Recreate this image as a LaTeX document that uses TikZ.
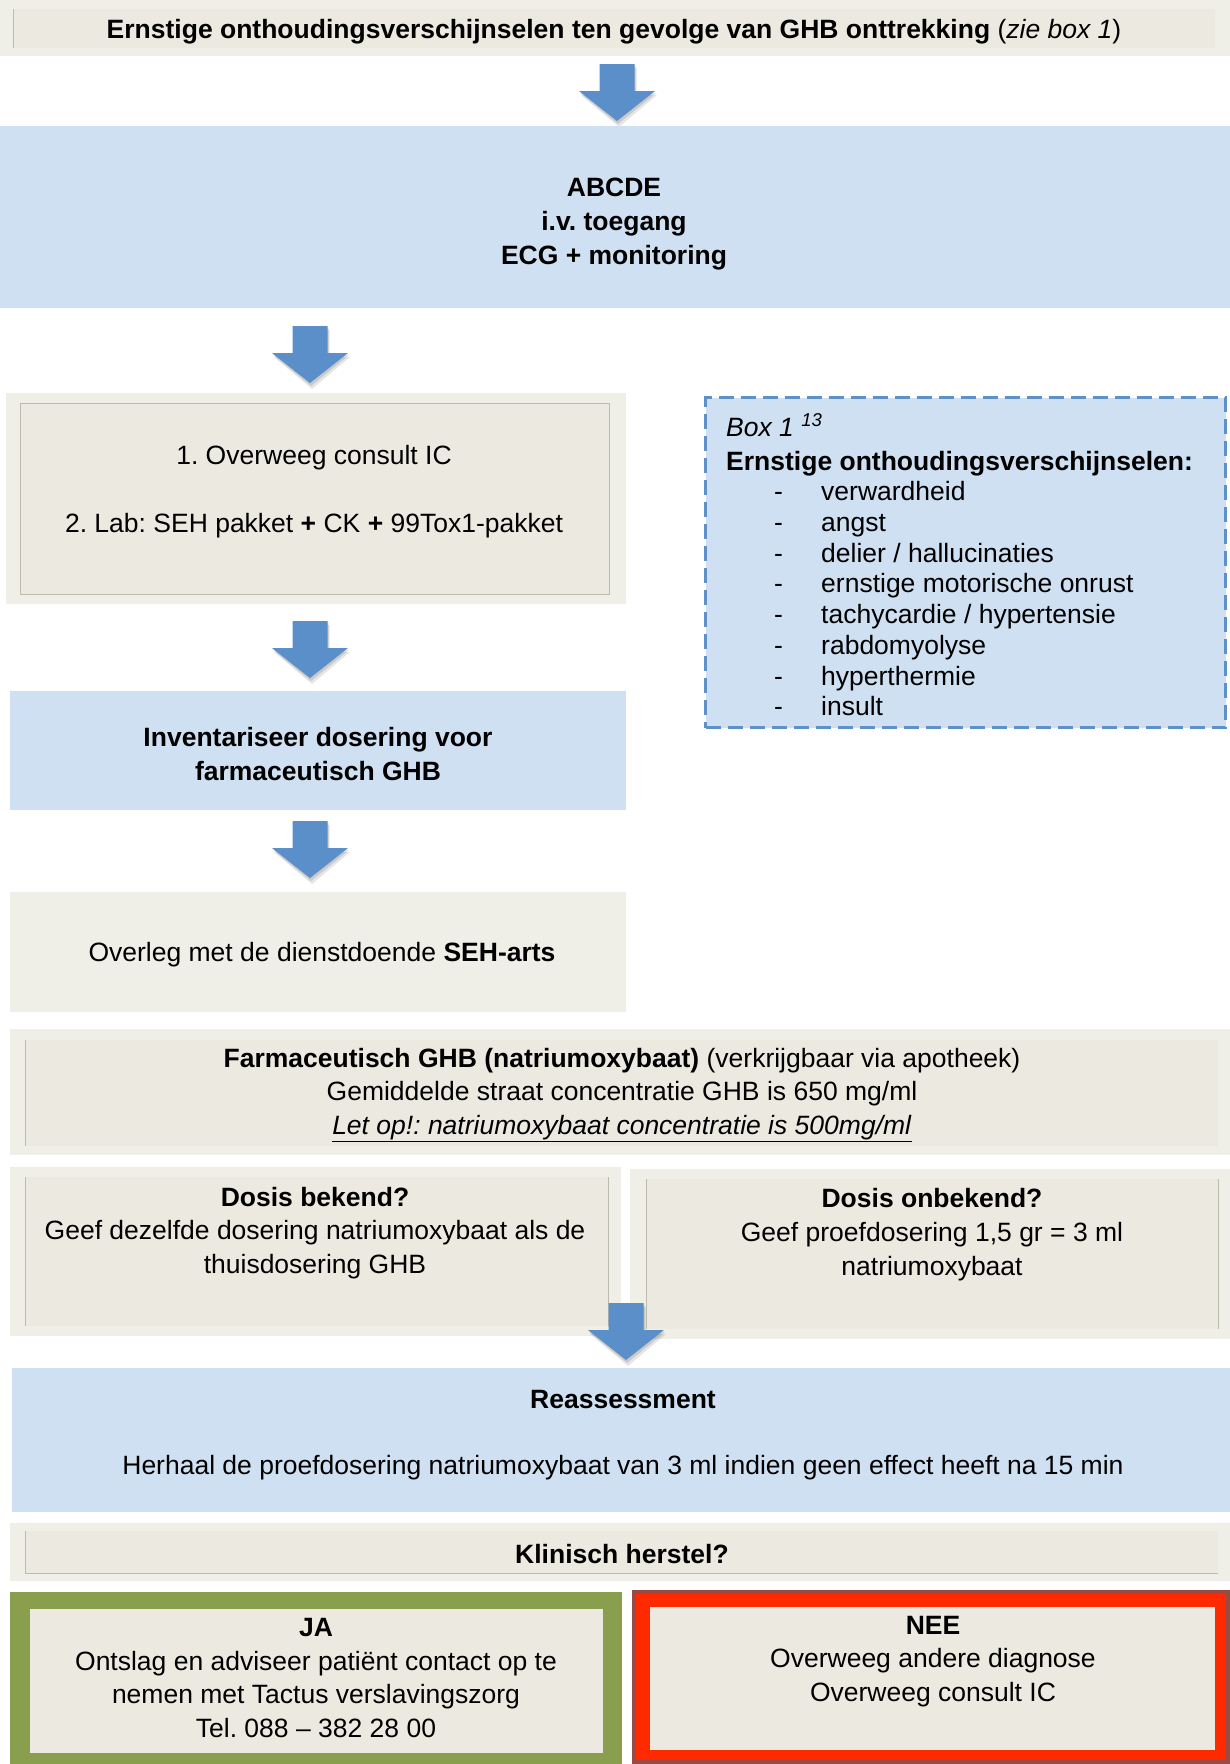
\documentclass[tikz,border=0pt]{standalone}
\usepackage{fontspec}
\setmainfont{Liberation Sans}
\usetikzlibrary{fit}
\definecolor{beigeout}{HTML}{EFEEE7}
\definecolor{beigein}{HTML}{ECEAE0}
\definecolor{beigeline}{HTML}{BDBBAE}
\definecolor{lblue}{HTML}{CFE0F2}
\definecolor{ablue}{HTML}{5B8FCA}
\definecolor{dblue}{HTML}{5E90CA}
\definecolor{jagreen}{HTML}{8A9F4E}
\definecolor{neered}{HTML}{FF2A00}
\definecolor{needark}{HTML}{9A4A44}
\frenchspacing
\tikzset{
 base/.style={inner sep=0pt, outer sep=0pt},
 outerb/.style={base, fill=beigeout},
 innerb/.style={base, fill=beigein, draw=beigeline, line width=0.9pt},
 blueb/.style={base, fill=lblue},
 txt/.style={inner sep=0pt, align=center, font=\fontsize{26.5}{33.8}\selectfont},
 ltxt/.style={inner sep=0pt, anchor=base west, font=\fontsize{26.5}{30}\selectfont},
}
\newcommand\blockarrow[3]{%
 \begin{scope}[shift={(#2,#3)}]
  \coordinate (#1) at (0,0);
  \coordinate (#1tip) at (0,57);
  \fill[black, opacity=0.10] (-15.5,4) -- (19.5,4) -- (19.5,31) -- (40,31) -- (2,63) -- (-36,31) -- (-15.5,31) -- cycle;
  \fill[black, opacity=0.12] (-16.5,2) -- (18.5,2) -- (18.5,29) -- (39,29) -- (1,60) -- (-37,29) -- (-16.5,29) -- cycle;
  \fill[ablue] (-17.5,0) -- (17.5,0) -- (17.5,27) -- (38,27) -- (0,57) -- (-38,27) -- (-17.5,27) -- cycle;
 \end{scope}}
\begin{document}
\begin{tikzpicture}[x=1pt,y=-1pt]
\useasboundingbox (0,0) rectangle (1230,1764);
\fill[white] (0,0) rectangle (1230,1764);

% title
\node[outerb, fit={(0,0) (1230,56)}] (titleout) {};
\node[innerb, draw=none, fit={(13,9) (1215,48)}] (titlein) {};
\draw[beigeline, line width=0.9pt] (titlein.north west) -- (titlein.south west);
\node[txt] (title) at (614,31.5) {\textbf{Ernstige onthoudingsverschijnselen ten gevolge van GHB onttrekking} (\textit{zie box 1})};

\blockarrow{arr1}{617}{64}

% ABCDE
\node[blueb, fit={(0,126) (1230,308)}] (abcde) {};
\node[txt, font=\bfseries\fontsize{26.5}{33.8}\selectfont] (abcdetxt) at (614,224) {ABCDE\\i.v. toegang\\ECG + monitoring};

\blockarrow{arr2}{310}{326}

% Overweeg box
\node[outerb, fit={(6,393) (626,604)}] (ovout) {};
\node[innerb, fit={(20,403) (609,594)}] (ovin) {};
\node[txt] (ov1) at (314,458) {1. Overweeg consult IC};
\node[txt] (ov2) at (314,526) {2. Lab: SEH pakket \textbf{+} CK \textbf{+} 99Tox1-pakket};

% Box 1
\node[base, fill=lblue, draw=dblue, line width=3.4pt, dash pattern=on 15pt off 7pt, fit={(705.5,397.5) (1225.5,727.5)}] (box1) {};
\node[ltxt] (box1title) at (726,436) {\textit{Box 1 \textsuperscript{13}}};
\node[ltxt] (box1head) at (726,470) {\textbf{Ernstige onthoudingsverschijnselen:}};
\foreach \t [count=\i] in {verwardheid, angst, delier / hallucinaties, ernstige motorische onrust, tachycardie / hypertensie, rabdomyolyse, hyperthermie, insult}{
 \node[ltxt] (dash\i) at (774,{500.8+30.7*(\i-1)}) {-};
 \node[ltxt] (item\i) at (821,{500.8+30.7*(\i-1)}) {\t};
}

\blockarrow{arr3}{310}{621}

% Inventariseer
\node[blueb, fit={(10,691) (626,810)}] (inv) {};
\node[txt, font=\bfseries\fontsize{26.5}{33.8}\selectfont] (invtxt) at (318,754) {Inventariseer dosering voor\\farmaceutisch GHB};

\blockarrow{arr4}{310}{821}

% Overleg
\node[outerb, fit={(10,892) (626,1012)}] (overleg) {};
\node[txt] (overlegtxt) at (322,955) {Overleg met de dienstdoende \textbf{SEH-arts}};

% Farmaceutisch
\node[outerb, fit={(10,1029) (1230,1155)}] (farmout) {};
\node[innerb, draw=none, fit={(25,1040) (1218,1146)}] (farmin) {};
\draw[beigeline, line width=0.9pt] (farmin.north west) -- (farmin.south west);
\node[txt] (farmtxt) at (622,1095) {\textbf{Farmaceutisch GHB (natriumoxybaat)} (verkrijgbaar via apotheek)\\Gemiddelde straat concentratie GHB is 650 mg/ml\\\underline{\textit{Let op!: natriumoxybaat concentratie is 500mg/ml}}};

% Dosis bekend
\node[outerb, fit={(10,1167) (621,1336)}] (bekout) {};
\node[innerb, draw=none, fit={(25,1177) (608,1326)}] (bekin) {};
\draw[beigeline, line width=0.9pt] (bekin.north west) -- (bekin.south west) (bekin.north east) -- (bekin.south east);
\node[txt] (bektxt) at (315,1233) {\textbf{Dosis bekend?}\\Geef dezelfde dosering natriumoxybaat als de\\thuisdosering GHB};

% Dosis onbekend
\node[outerb, fit={(630,1169) (1230,1339)}] (onbout) {};
\node[innerb, draw=none, fit={(646,1179) (1218,1329)}] (onbin) {};
\draw[beigeline, line width=0.9pt] (onbin.north west) -- (onbin.south west) (onbin.north east) -- (onbin.south east);
\node[txt] (onbtxt) at (932,1234.5) {\textbf{Dosis onbekend?}\\Geef proefdosering 1,5 gr = 3 ml\\natriumoxybaat};

\blockarrow{arr5}{626}{1303}

% Reassessment
\node[blueb, fit={(12,1368) (1230,1512)}] (reass) {};
\node[txt] (reasshead) at (623,1399) {\textbf{Reassessment}};
\node[txt] (reasstxt) at (623,1468) {Herhaal de proefdosering natriumoxybaat van 3 ml indien geen effect heeft na 15 min};

% Klinisch herstel
\node[outerb, fit={(10,1523) (1230,1581)}] (klinout) {};
\node[innerb, draw=none, fit={(25,1531) (1218,1573)}] (klinin) {};
\draw[beigeline, line width=0.9pt] (klinin.north west) -- (klinin.south west) -- (klinin.south east);
\node[txt] (klintxt) at (622,1554) {\textbf{Klinisch herstel?}};

% JA
\node[base, fill=jagreen, fit={(10,1592) (622,1764)}] (jaout) {};
\node[base, fill=beigein, fit={(30,1609) (603,1753)}] (jain) {};
\node[txt] (jatxt) at (316,1678) {\textbf{JA}\\Ontslag en adviseer patiënt contact op te\\nemen met Tactus verslavingszorg\\Tel. 088 – 382 28 00};

% NEE
\node[base, fill=neered, draw=needark, line width=4pt, fit={(634,1592) (1228,1762)}] (neeout) {};
\node[base, fill=beigein, fit={(650,1607) (1215,1750)}] (neein) {};
\node[txt] (neetxt) at (933,1661.5) {\textbf{NEE}\\Overweeg andere diagnose\\Overweeg consult IC};
\end{tikzpicture}
\end{document}
